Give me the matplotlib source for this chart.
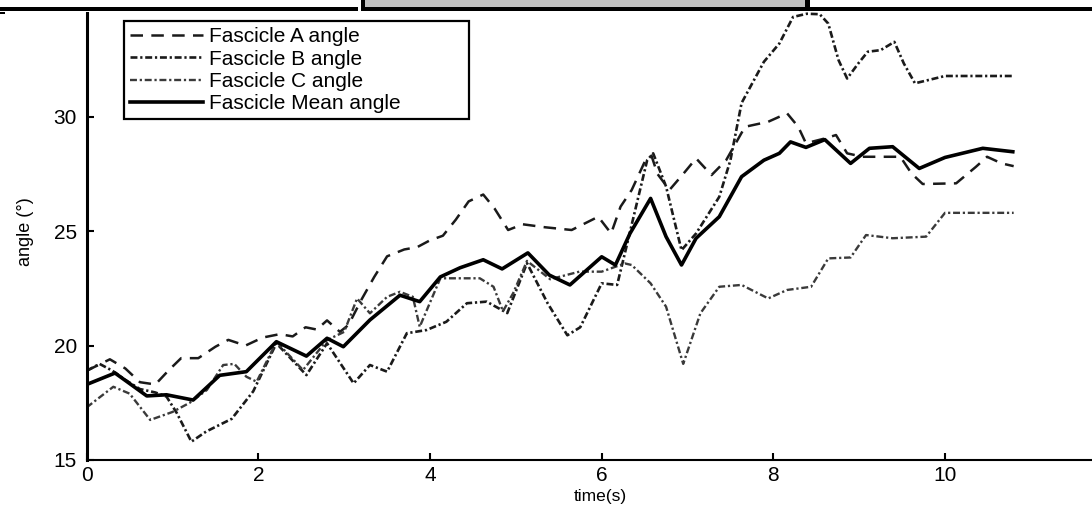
import matplotlib
matplotlib.use("Agg")
import matplotlib.pyplot as plt
from matplotlib.patches import Rectangle

plt.rcParams['font.family'] = ['Liberation Sans', 'DejaVu Sans']
plt.rcParams['lines.scale_dashes'] = False

# values
t_a = [0, 0.27, 0.45, 0.62, 0.80, 0.95, 1.10, 1.30, 1.50, 1.65, 1.85, 2.05, 2.25, 2.40,
       2.55, 2.68, 2.80, 2.95, 3.05, 3.20, 3.35, 3.50, 3.70, 3.85, 4.00, 4.15, 4.30, 4.45,
       4.62, 4.75, 4.91, 5.08, 5.34, 5.65, 5.96, 6.11, 6.22, 6.35, 6.51, 6.58, 6.65, 6.79,
       6.95, 7.10, 7.28, 7.45, 7.67, 7.94, 8.16, 8.29, 8.38, 8.60, 8.73, 8.86, 9.04, 9.48,
       9.61, 9.74, 10.13, 10.36, 10.49, 10.66, 10.80]
angle_a = [18.9, 19.4, 19.0, 18.4, 18.3, 18.9, 19.45, 19.45, 19.95, 20.25, 20.0, 20.35, 20.5, 20.4,
           20.8, 20.7, 21.1, 20.6, 20.9, 22.0, 23.0, 23.9, 24.2, 24.3, 24.6, 24.8, 25.5, 26.3,
           26.6, 26.0, 25.05, 25.3, 25.17, 25.05, 25.63, 24.9, 26.07, 26.8, 28.1, 28.3, 27.5, 26.8,
           27.5, 28.18, 27.45, 28.1, 29.56, 29.78, 30.15, 29.56, 28.84, 29.05, 29.2, 28.4, 28.25, 28.25,
           27.52, 27.06, 27.09, 27.81, 28.25, 27.96, 27.84]

t_b = [0, 0.15, 0.30, 0.45, 0.62, 0.80, 0.93, 1.05, 1.22, 1.39, 1.69, 1.94, 2.21, 2.56,
       2.80, 3.11, 3.30, 3.50, 3.73, 3.96, 4.19, 4.43, 4.66, 4.90, 5.13, 5.37, 5.60, 5.75,
       6.00, 6.18, 6.27, 6.40, 6.53, 6.60, 6.75, 6.93, 7.10, 7.37, 7.50, 7.63, 7.89, 8.07,
       8.23, 8.39, 8.54, 8.64, 8.76, 8.86, 8.99, 9.10, 9.25, 9.41, 9.52, 9.65, 10.00, 10.80]
angle_b = [18.9, 19.2, 18.9, 18.5, 18.1, 17.95, 17.77, 17.05, 15.8, 16.24, 16.8, 18.0, 20.1, 18.71,
           20.1, 18.35, 19.15, 18.86, 20.54, 20.68, 21.04, 21.85, 21.92, 21.42, 23.6, 21.85, 20.45, 20.8,
           22.72, 22.65, 24.03, 26.07, 28.1, 28.4, 26.95, 24.17, 24.9, 26.5, 28.1, 30.6, 32.4, 33.2,
           34.36, 34.5, 34.48, 34.07, 32.47, 31.67, 32.33, 32.84, 32.91, 33.27, 32.33, 31.46, 31.78, 31.78]

t_c = [0, 0.31, 0.50, 0.74, 1.00, 1.20, 1.40, 1.59, 1.72, 1.86, 1.98, 2.21, 2.52, 2.80,
       3.00, 3.15, 3.30, 3.50, 3.65, 3.80, 3.88, 4.12, 4.58, 4.74, 4.85, 4.97, 5.13, 5.40,
       5.74, 6.00, 6.27, 6.35, 6.57, 6.75, 6.95, 7.15, 7.37, 7.63, 7.94, 8.16, 8.44, 8.64,
       8.90, 9.08, 9.39, 9.78, 10.00, 10.80]
angle_c = [17.3, 18.2, 17.9, 16.75, 17.1, 17.5, 18.06, 19.15, 19.2, 18.64, 18.42, 20.17, 18.93, 20.24,
           20.6, 22.06, 21.41, 22.13, 22.35, 22.13, 20.82, 22.94, 22.94, 22.57, 21.5, 22.3, 23.7, 22.9,
           23.23, 23.23, 23.59, 23.52, 22.72, 21.7, 19.2, 21.41, 22.57, 22.65, 22.06, 22.43, 22.57, 23.81,
           23.85, 24.83, 24.69, 24.76, 25.8, 25.8]

t_mean = [0, 0.33, 0.70, 0.93, 1.24, 1.55, 1.86, 2.21, 2.56, 2.80, 2.99, 3.30, 3.65, 3.88,
          4.12, 4.35, 4.62, 4.84, 5.14, 5.39, 5.63, 6.00, 6.16, 6.33, 6.57, 6.75, 6.93, 7.10,
          7.37, 7.63, 7.89, 8.07, 8.20, 8.38, 8.60, 8.90, 9.12, 9.39, 9.70, 10.00, 10.44, 10.79]
angle_mean = [18.3, 18.8, 17.8, 17.85, 17.62, 18.7, 18.86, 20.17, 19.54, 20.32, 19.95, 21.12, 22.2, 21.92,
              23.0, 23.4, 23.75, 23.35, 24.05, 23.08, 22.65, 23.88, 23.52, 24.9, 26.43, 24.76, 23.52, 24.69,
              25.63, 27.38, 28.1, 28.4, 28.9, 28.66, 29.0, 27.96, 28.62, 28.69, 27.74, 28.22, 28.62, 28.47]

labels = ['Fascicle A angle', 'Fascicle B angle', 'Fascicle C angle', 'Fascicle Mean angle']
xticks = [0, 2, 4, 6, 8, 10]
yticks = [15, 20, 25, 30]

W, H = 1092, 508
fig = plt.figure(figsize=(W / 100, H / 100), dpi=100)
# axes placed in pixel terms, right side runs past the picture (cropped figure)
x0, x_right, y_top, y_bot = 86.7, 1092, 2.3, 460
ax = fig.add_axes([x0 / W, 1 - y_bot / H, (x_right - x0) / W, (y_bot - y_top) / H])

ax.plot(t_a, angle_a, color='#1a1a1a', lw=1.8, ls=(0, (9, 6)), label=labels[0])
ax.plot(t_b, angle_b, color='#1a1a1a', lw=1.9, ls=(0, (5, 2, 1.6, 2)), label=labels[1])
ax.plot(t_c, angle_c, color='#3a3a3a', lw=1.7, ls=(0, (5, 2, 1.6, 2)), label=labels[2])
ax.plot(t_mean, angle_mean, color='black', lw=2.6, label=labels[3])

ax.set_xlim(0, (x_right - x0) / 85.83)
ax.set_ylim(15, 35)
ax.set_xticks(xticks)
ax.set_yticks(yticks)
ax.tick_params(direction='in', length=5, width=1.5, labelsize=15, pad=7)
ax.tick_params(axis='x', pad=4)
for s in ['top', 'right']:
    ax.spines[s].set_visible(False)
ax.spines['left'].set_linewidth(2.2)
ax.spines['bottom'].set_linewidth(1.5)

ax.set_xlabel('time(s)', fontsize=12.5)
ax.xaxis.set_label_coords((600 - x0) / (x_right - x0), (y_bot - 489) / (y_bot - y_top))
ax.set_ylabel('angle (°)', fontsize=13)
ax.yaxis.set_label_coords((34 - x0) / (x_right - x0), (y_bot - 232) / (y_bot - y_top))

leg = ax.legend(loc='upper left', mode='expand', fontsize=15, handlelength=3.5,
                handletextpad=0.3, labelspacing=0.16, borderpad=0.3, borderaxespad=0,
                bbox_to_anchor=((124 - x0) / (x_right - x0), 0.5, (469 - 124) / (x_right - x0),
                                (y_bot - 21) / (y_bot - y_top) - 0.5),
                fancybox=False, framealpha=1)
leg.get_frame().set_edgecolor('black')
leg.get_frame().set_linewidth(1.6)


# bits of the neighbouring panels at the top edge of the crop
def px_rect(x, y, w, h, color):
    fig.add_artist(Rectangle((x / W, 1 - (y + h) / H), w / W, h / H, transform=fig.transFigure,
                             facecolor=color, edgecolor='none', zorder=10))


px_rect(0, 0, W, 12, 'white')
px_rect(0, 7, 358, 3.7, 'black')
px_rect(361, 0, 4, 10.7, 'black')
px_rect(365, 0, 440, 7, '#c0c0c0')
px_rect(361, 7, 449, 3.7, 'black')
px_rect(805, 0, 5, 10.7, 'black')
px_rect(810, 7, W - 810, 3.7, 'black')
px_rect(0, 12, 5, 2, 'black')

fig.savefig('out.png', dpi=100)
